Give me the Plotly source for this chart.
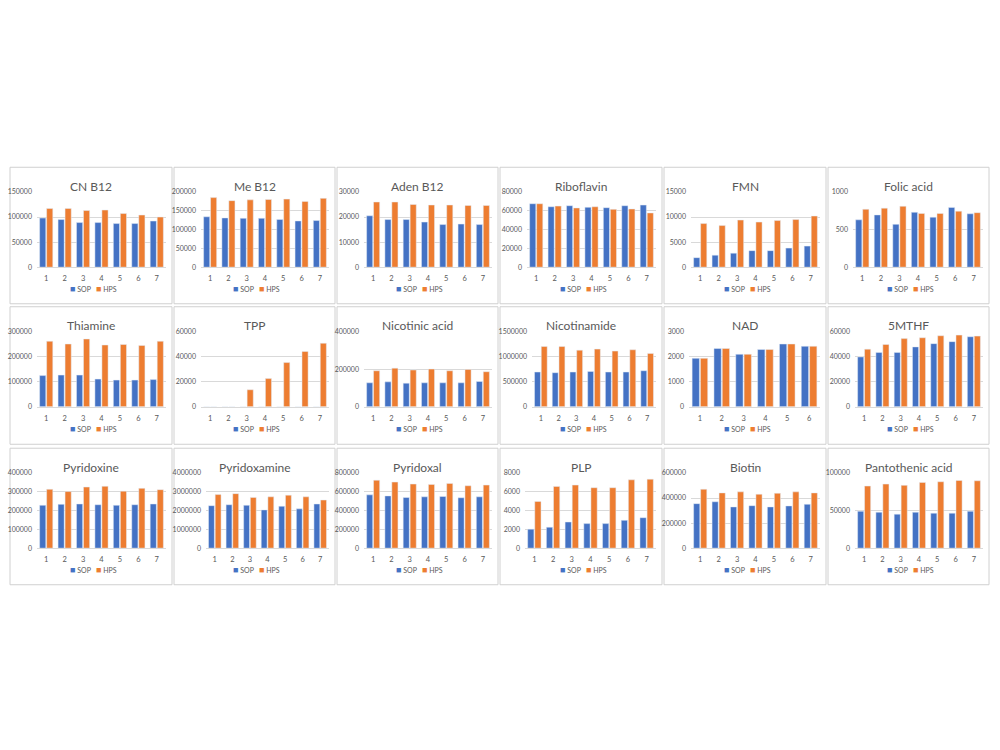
import plotly.graph_objects as go

# ---------------- data ----------------
categories7 = ["1", "2", "3", "4", "5", "6", "7"]
categories6 = ["1", "2", "3", "4", "5", "6"]
series_names = ["SOP", "HPS"]

cn_b12_sop = [98000, 95000, 89000, 89000, 87000, 87000, 92000]
cn_b12_hps = [117000, 117000, 113000, 114000, 107000, 104000, 100000]
me_b12_sop = [134000, 131000, 130000, 130000, 127000, 123000, 124000]
me_b12_hps = [185000, 177000, 179000, 180000, 181000, 175000, 183000]
aden_b12_sop = [20500, 19000, 19000, 18000, 17000, 17200, 17000]
aden_b12_hps = [26000, 26000, 25000, 24800, 24800, 24600, 24600]
riboflavin_sop = [67500, 64300, 65400, 63700, 63300, 65400, 66100]
riboflavin_hps = [67500, 65000, 63000, 64300, 61500, 61900, 57700]
fmn_sop = [1900, 2400, 2800, 3300, 3300, 3800, 4200]
fmn_hps = [8700, 8300, 9400, 9000, 9300, 9500, 10200]
folic_sop = [630, 695, 570, 730, 665, 795, 710]
folic_hps = [770, 785, 810, 715, 715, 745, 725]

thiamine_sop = [124000, 126000, 126000, 110000, 106000, 106000, 108000]
thiamine_hps = [261000, 250000, 270000, 246000, 248000, 244000, 261000]
tpp_sop = [0, 0, 0, 0, 0, 0, 0]
tpp_hps = [0, 0, 13500, 22400, 35200, 44000, 50600]
nicotinic_sop = [127000, 132000, 125000, 127000, 127000, 127000, 134000]
nicotinic_hps = [191000, 205000, 195000, 200000, 191000, 198000, 186000]
nicotinamide_sop = [691000, 678000, 691000, 704000, 691000, 691000, 717000]
nicotinamide_hps = [1200000, 1200000, 1128000, 1148000, 1109000, 1135000, 1063000]
nad_sop = [1930, 2320, 2090, 2280, 2500, 2410]
nad_hps = [1930, 2320, 2090, 2280, 2500, 2410]
mthf_sop = [39700, 43300, 43300, 47700, 50300, 51900, 55800]
mthf_hps = [45900, 49600, 54300, 55000, 56600, 57100, 56300]

pyridoxine_sop = [228000, 233000, 235000, 231000, 228000, 231000, 235000]
pyridoxine_hps = [313000, 301000, 325000, 329000, 303000, 318000, 311000]
pyridoxamine_sop = [2260000, 2310000, 2280000, 2035000, 2230000, 2090000, 2350000]
pyridoxamine_hps = [2850000, 2900000, 2700000, 2730000, 2820000, 2730000, 2560000]
pyridoxal_sop = [567000, 556000, 539000, 546000, 550000, 536000, 546000]
pyridoxal_hps = [723000, 703000, 682000, 678000, 689000, 664000, 671000]
plp_sop = [2020, 2230, 2780, 2610, 2610, 2960, 3240]
plp_hps = [4970, 6570, 6710, 6430, 6430, 7270, 7340]
biotin_sop = [355000, 370000, 329000, 339000, 329000, 337000, 350000]
biotin_hps = [470000, 441000, 449000, 430000, 438000, 449000, 441000]
pantothenic_sop = [49100, 47800, 45200, 47800, 46500, 46500, 49100]
pantothenic_hps = [82600, 85200, 83500, 87400, 88300, 90000, 89600]

titles = ["CN B12", "Me B12", "Aden B12", "Riboflavin", "FMN", "Folic acid",
          "Thiamine", "TPP", "Nicotinic acid", "Nicotinamide", "NAD", "5MTHF",
          "Pyridoxine", "Pyridoxamine", "Pyridoxal", "PLP", "Biotin", "Pantothenic acid"]
sop_series = [cn_b12_sop, me_b12_sop, aden_b12_sop, riboflavin_sop, fmn_sop, folic_sop,
              thiamine_sop, tpp_sop, nicotinic_sop, nicotinamide_sop, nad_sop, mthf_sop,
              pyridoxine_sop, pyridoxamine_sop, pyridoxal_sop, plp_sop, biotin_sop, pantothenic_sop]
hps_series = [cn_b12_hps, me_b12_hps, aden_b12_hps, riboflavin_hps, fmn_hps, folic_hps,
              thiamine_hps, tpp_hps, nicotinic_hps, nicotinamide_hps, nad_hps, mthf_hps,
              pyridoxine_hps, pyridoxamine_hps, pyridoxal_hps, plp_hps, biotin_hps, pantothenic_hps]
# y-axis tick settings (max, step)
y_max = [150000, 200000, 30000, 80000, 15000, 1000,
         300000, 60000, 400000, 1500000, 3000, 60000,
         400000, 4000000, 800000, 8000, 600000, 100000]
y_step = [50000, 50000, 10000, 20000, 5000, 500,
          100000, 20000, 200000, 500000, 1000, 20000,
          100000, 1000000, 200000, 2000, 200000, 50000]

# ---------------- style / layout ----------------
BLUE = "#4472C4"
ORANGE = "#ED7D31"
GRID = "#D9D9D9"
TXT = "#595959"
FONT = "Lato"
W, H = 1000, 750

panel_left = [10, 174, 337, 500, 664, 828]
panel_right = [172, 335, 498, 662, 826, 989]
panel_top = [164, 305, 448]
panel_bottom = [302, 444, 586]

fig = go.Figure()
shapes = []
annotations = []

for i in range(18):
    r, c = divmod(i, 6)
    L, R = panel_left[c], panel_right[c]
    T, B = panel_top[r], panel_bottom[r]
    ndig = len(str(y_max[i]))
    off = {3: 24, 4: 25, 5: 27, 6: 27, 7: 32}[ndig]
    x0, x1 = (L + off) / W, (R - 6) / W
    y0, y1 = 1 - (T + 101) / H, 1 - (T + 25) / H
    n = str(i + 1)
    xa, ya = "x" + n, "y" + n
    cats = categories7 if len(sop_series[i]) == 7 else categories6

    fig.add_trace(go.Bar(x=cats, y=sop_series[i], name=series_names[0],
                         marker_color=BLUE, xaxis=xa, yaxis=ya, showlegend=False))
    fig.add_trace(go.Bar(x=cats, y=hps_series[i], name=series_names[1],
                         marker_color=ORANGE, xaxis=xa, yaxis=ya, showlegend=False))

    fig.layout["xaxis" + n] = dict(
        domain=[x0, x1], anchor=ya, type="category",
        showline=True, linecolor=GRID, linewidth=1,
        showgrid=False, ticks="", zeroline=False,
        tickfont=dict(family=FONT, size=7.5, color=TXT), ticklabelstandoff=4,
        fixedrange=True)
    fig.layout["yaxis" + n] = dict(
        domain=[y0, y1], anchor=xa, range=[0, y_max[i]], dtick=y_step[i], tick0=0,
        tickformat="d", showline=False, showgrid=True, gridcolor=GRID, gridwidth=1,
        zeroline=False, ticks="", ticklabelstandoff=4,
        tickfont=dict(family=FONT, size=7, color=TXT), fixedrange=True)

    # panel border
    shapes.append(dict(type="rect", xref="paper", yref="paper",
                       x0=L / W, x1=R / W, y0=1 - B / H, y1=1 - T / H,
                       line=dict(color="#D0D0D0", width=1), fillcolor="rgba(0,0,0,0)",
                       layer="below"))
    # title
    annotations.append(dict(text=titles[i], xref="paper", yref="paper",
                            x=(L + R) / 2 / W, y=1 - (T + 19) / H,
                            xanchor="center", yanchor="middle", showarrow=False,
                            font=dict(family=FONT, size=12, color=TXT)))
    # legend
    leg = (f'<span style="color:{BLUE};font-size:9px">■</span> {series_names[0]}   '
           f'<span style="color:{ORANGE};font-size:9px">■</span> {series_names[1]}')
    annotations.append(dict(text=leg, xref="paper", yref="paper",
                            x=(L + R) / 2 / W + 2 / W, y=1 - (T + 123) / H,
                            xanchor="center", yanchor="middle", showarrow=False,
                            font=dict(family=FONT, size=7, color=TXT)))

fig.update_layout(
    width=W, height=H, margin=dict(l=0, r=0, t=0, b=0),
    paper_bgcolor="white", plot_bgcolor="white",
    barmode="group", bargap=0.24, bargroupgap=0.12,
    shapes=shapes, annotations=annotations, showlegend=False,
    font=dict(family=FONT, color=TXT),
)

fig.write_html("out.html")
